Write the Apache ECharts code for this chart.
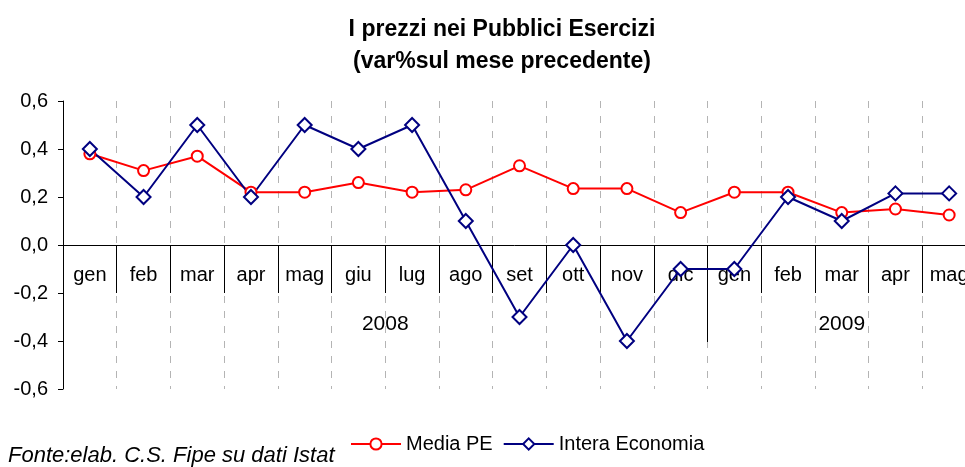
<!DOCTYPE html>
<html>
<head>
<meta charset="utf-8">
<script src="https://cdn.jsdelivr.net/npm/echarts@6/dist/echarts.min.js"></script>
<style>
  html, body { margin: 0; padding: 0; background: #fff; }
  #chart { width: 965px; height: 467px; }
</style>
</head>
<body>
<div id="chart"></div>
<script>
// mesi (gen 2008 - mag 2009)
const months = ['gen', 'feb', 'mar', 'apr', 'mag', 'giu', 'lug', 'ago', 'set', 'ott', 'nov', 'dic',
    'gen', 'feb', 'mar', 'apr', 'mag'];
const years = ['2008', '2009'];
const yearSpans = [12, 5];

const mediaPE = [0.38, 0.31, 0.37, 0.22, 0.22, 0.26, 0.22, 0.23, 0.33, 0.235, 0.235, 0.135,
    0.22, 0.22, 0.135, 0.15, 0.125];
const interaEconomia = [0.4, 0.2, 0.5, 0.2, 0.5, 0.4, 0.5, 0.1, -0.3, 0.0, -0.4, -0.1,
    -0.1, 0.2, 0.1, 0.215, 0.215];

const yTicks = { min: -0.6, max: 0.6, step: 0.2 };

// centro di ogni anno e separatori tra anni
const yearCenters = [];
const yearBreaks = [];
let acc = 0;
yearSpans.forEach((n, i) => {
    yearCenters.push(acc + n / 2);
    acc += n;
    if (i < yearSpans.length - 1) {
        yearBreaks.push(acc);
    }
});

const fmtComma = (v) => {
    if (Math.abs(v) < 1e-9) {
        v = 0;
    }
    return v.toFixed(1).replace('.', ',');
};

const FONT = 'Liberation Sans, Arial, sans-serif';
const PLOT_LEFT = 63;
const PLOT_RIGHT = -11;
const ZERO_Y = 245; // riga dello zero, dove stanno le etichette dei mesi

const option = {
    animation: false,
    title: {
        text: 'I prezzi nei Pubblici Esercizi\n(var%sul mese precedente)',
        left: 497,
        top: 9,
        textAlign: 'center',
        textStyle: {
            fontFamily: FONT,
            fontSize: 23,
            fontWeight: 'bold',
            color: '#000',
            lineHeight: 32
        }
    },
    legend: {
        left: 350,
        top: 434,
        padding: 0,
        itemWidth: 50,
        itemHeight: 14,
        itemGap: 10,
        textStyle: { fontFamily: FONT, fontSize: 20, color: '#000' },
        data: ['Media PE', 'Intera Economia']
    },
    graphic: [
        {
            type: 'text',
            left: 8,
            top: 445,
            style: {
                text: 'Fonte:elab. C.S. Fipe su dati Istat',
                font: 'italic 22px ' + FONT,
                fill: '#000'
            }
        }
    ],
    grid: [
        {
            left: PLOT_LEFT,
            right: PLOT_RIGHT,
            top: 101,
            bottom: 78,
            outerBoundsMode: 'none',
            containLabel: false
        },
        {
            // griglia vuota: serve solo per le etichette sotto la riga dello zero
            left: PLOT_LEFT,
            right: PLOT_RIGHT,
            top: ZERO_Y - 20,
            bottom: 467 - ZERO_Y,
            outerBoundsMode: 'none',
            containLabel: false
        }
    ],
    xAxis: [
        {
            type: 'category',
            gridIndex: 0,
            data: months,
            boundaryGap: true,
            position: 'bottom',
            axisLine: { onZero: true, onZeroAxisIndex: 0, lineStyle: { color: '#000', width: 1 } },
            axisTick: { show: true, interval: 0, length: 48, lineStyle: { color: '#000' } },
            axisLabel: { show: false },
            splitLine: {
                show: true,
                interval: 0,
                lineStyle: { color: '#b4b4b4', type: [7, 8], width: 1 }
            }
        },
        {
            type: 'value',
            gridIndex: 0,
            min: 0,
            max: months.length,
            position: 'bottom',
            axisLine: { show: false, onZero: true, onZeroAxisIndex: 0 },
            axisTick: {
                show: true,
                customValues: yearBreaks,
                length: 97,
                lineStyle: { color: '#000' }
            },
            axisLabel: { show: false },
            splitLine: { show: false }
        },
        {
            type: 'category',
            gridIndex: 1,
            data: months,
            boundaryGap: true,
            position: 'bottom',
            axisLine: { show: false },
            axisTick: { show: false },
            axisLabel: { interval: 0, margin: 20, fontFamily: FONT, fontSize: 20, color: '#000' },
            splitLine: { show: false }
        },
        {
            type: 'value',
            gridIndex: 1,
            min: 0,
            max: months.length,
            position: 'bottom',
            axisLine: { show: false },
            axisTick: { show: false },
            axisLabel: {
                show: true,
                customValues: yearCenters,
                margin: 69,
                fontFamily: FONT,
                fontSize: 21,
                color: '#000',
                formatter: (v) => {
                    const i = yearCenters.indexOf(v);
                    return i >= 0 ? years[i] : '';
                }
            },
            splitLine: { show: false }
        }
    ],
    yAxis: [
        {
            type: 'value',
            gridIndex: 0,
            min: yTicks.min,
            max: yTicks.max,
            interval: yTicks.step,
            axisLine: { show: true, lineStyle: { color: '#000' } },
            axisTick: { show: true, length: 5, lineStyle: { color: '#000' } },
            axisLabel: { margin: 15, fontFamily: FONT, fontSize: 20, color: '#000', formatter: fmtComma },
            splitLine: { show: false }
        },
        {
            type: 'value',
            gridIndex: 1,
            show: false
        }
    ],
    series: [
        {
            name: 'Media PE',
            type: 'line',
            xAxisIndex: 0,
            yAxisIndex: 0,
            data: mediaPE,
            symbol: 'emptyCircle',
            symbolSize: 11,
            color: '#ff0000',
            lineStyle: { width: 2, color: '#ff0000' },
            itemStyle: { color: '#ff0000', borderWidth: 2 }
        },
        {
            name: 'Intera Economia',
            type: 'line',
            xAxisIndex: 0,
            yAxisIndex: 0,
            data: interaEconomia,
            symbol: 'emptyDiamond',
            symbolSize: 14,
            color: '#000080',
            lineStyle: { width: 2, color: '#000080' },
            itemStyle: { color: '#000080', borderWidth: 2 }
        }
    ]
};

const chart = echarts.init(document.getElementById('chart'));
chart.setOption(option);
</script>
</body>
</html>
